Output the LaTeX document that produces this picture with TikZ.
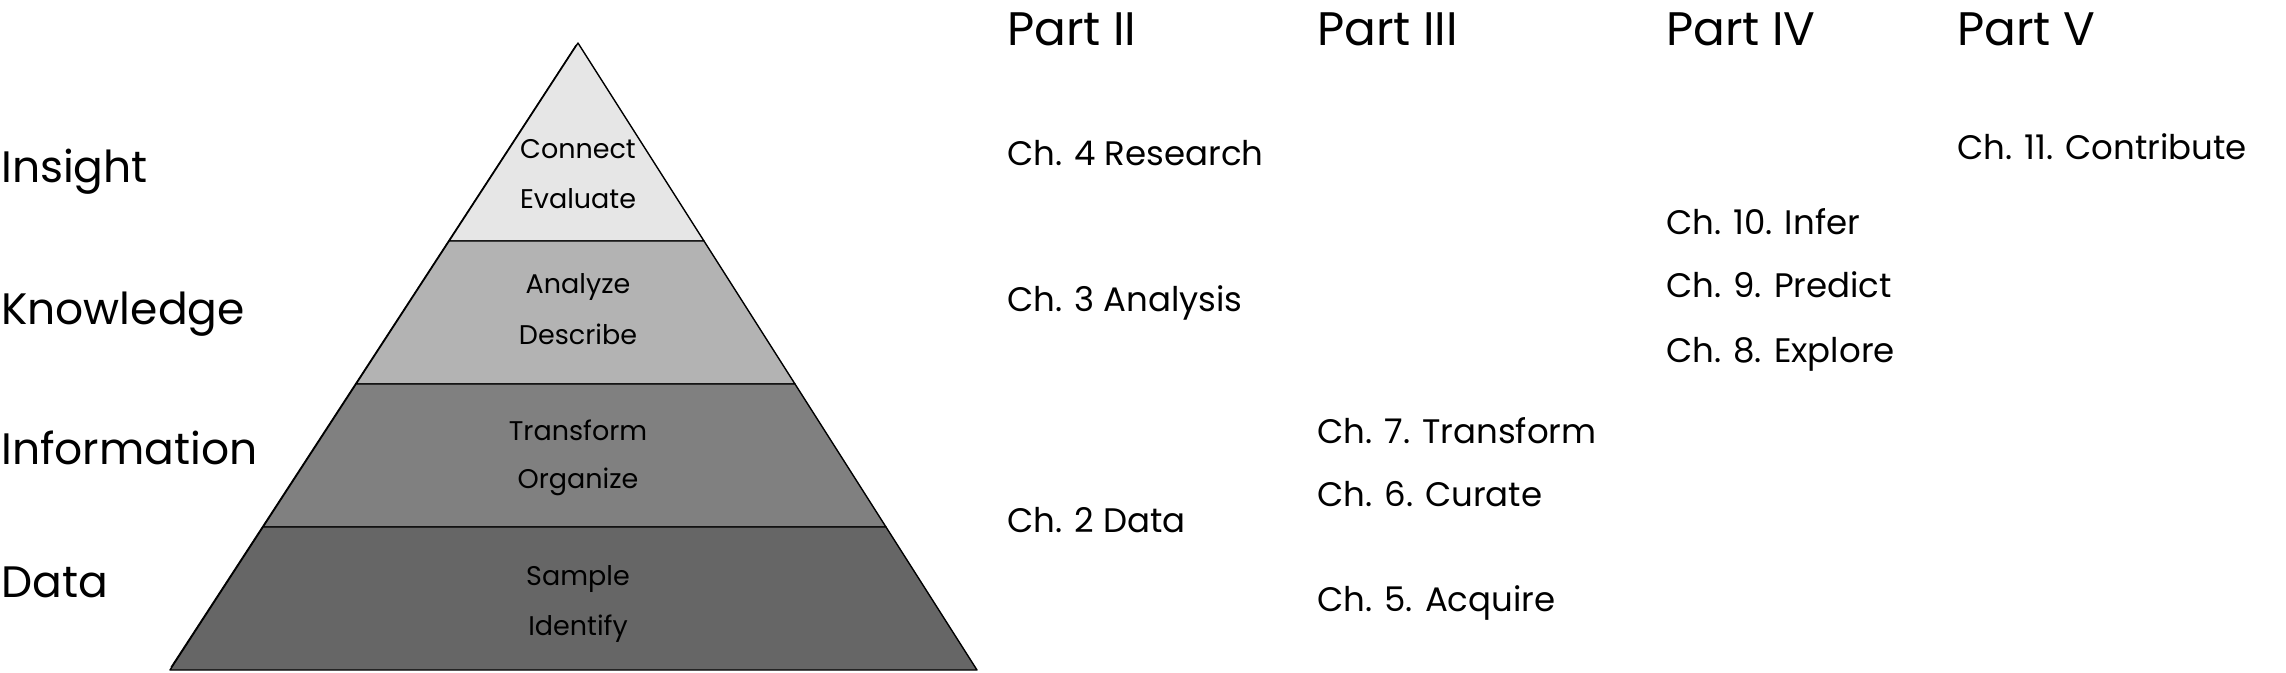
\documentclass[tikz,border=0pt]{standalone}
\usepackage{fontspec}
\setmainfont{Poppins}
\usetikzlibrary{calc}
\definecolor{lvlA}{HTML}{E6E6E6}
\definecolor{lvlB}{HTML}{B3B3B3}
\definecolor{lvlC}{HTML}{808080}
\definecolor{lvlD}{HTML}{666666}
\begin{document}
\begin{tikzpicture}[x=1pt,y=-1pt,
  lvl/.style={draw=black,line width=1.4pt,line join=round},
  sketch/.style={draw=black,line width=0.9pt},
  bigl/.style={anchor=base west,inner sep=0pt,font=\fontsize{44}{50}\selectfont},
  part/.style={anchor=base west,inner sep=0pt,font=\fontsize{47}{54}\selectfont},
  chap/.style={anchor=base west,inner sep=0pt,font=\fontsize{34}{40}\selectfont},
  innl/.style={anchor=base,inner sep=0pt,font=\fontsize{27}{30}\selectfont}]
\useasboundingbox (0,0) rectangle (2286,672);
% pyramid geometry
\coordinate (A) at (578,43);
\coordinate (BL) at (170,670);
\coordinate (BR) at (977,670);
\coordinate (L1) at ($(A)!0.3158!(BL)$);
\coordinate (R1) at ($(A)!0.3158!(BR)$);
\coordinate (L2) at ($(A)!0.5439!(BL)$);
\coordinate (R2) at ($(A)!0.5439!(BR)$);
\coordinate (L3) at ($(A)!0.7719!(BL)$);
\coordinate (R3) at ($(A)!0.7719!(BR)$);
\filldraw[lvl,fill=lvlA] (A) -- (R1) -- (L1) -- cycle;
\filldraw[lvl,fill=lvlB] (L1) -- (R1) -- (R2) -- (L2) -- cycle;
\filldraw[lvl,fill=lvlC] (L2) -- (R2) -- (R3) -- (L3) -- cycle;
\filldraw[lvl,fill=lvlD] (L3) -- (R3) -- (BR) -- (BL) -- cycle;
% hand-drawn second stroke along the left edge
\draw[sketch] ($(A)+(-2,2)$) -- ($(BL)+(1,-3)$);
% labels inside pyramid
\node[innl] (connect) at (578,158) {Connect};
\node[innl] (evaluate) at (578,208) {Evaluate};
\node[innl] (analyze) at (578,293) {Analyze};
\node[innl] (describe) at (578,344) {Describe};
\node[innl] (transform) at (578,440) {Transform};
\node[innl] (organize) at (578,488) {Organize};
\node[innl] (sample) at (578,585) {Sample};
\node[innl] (identify) at (578,635) {Identify};
% left labels
\node[bigl] (insight) at (1,182) {Insight};
\node[bigl] (knowledge) at (1,324) {Knowledge};
\node[bigl] (information) at (1,464) {Information};
\node[bigl] (data) at (1,597) {Data};
% part headings
\node[part] (p2) at (1007,45) {Part II};
\node[part] (p3) at (1317,45) {Part III};
\node[part] (p4) at (1666,45) {Part IV};
\node[part] (p5) at (1957,45) {Part V};
% chapters
\node[chap] (c4) at (1007,165) {Ch. 4 Research};
\node[chap] (c3) at (1007,311) {Ch. 3 Analysis};
\node[chap] (c2) at (1007,532) {Ch. 2 Data};
\node[chap] (c7) at (1317,443) {Ch. 7. Transform};
\node[chap] (c6) at (1317,506) {Ch. 6. Curate};
\node[chap] (c5) at (1317,611) {Ch. 5. Acquire};
\node[chap] (c10) at (1666,234) {Ch. 10. Infer};
\node[chap] (c9) at (1666,297) {Ch. 9. Predict};
\node[chap] (c8) at (1666,362) {Ch. 8. Explore};
\node[chap] (c11) at (1957,159) {Ch. 11. Contribute};
\end{tikzpicture}
\end{document}
